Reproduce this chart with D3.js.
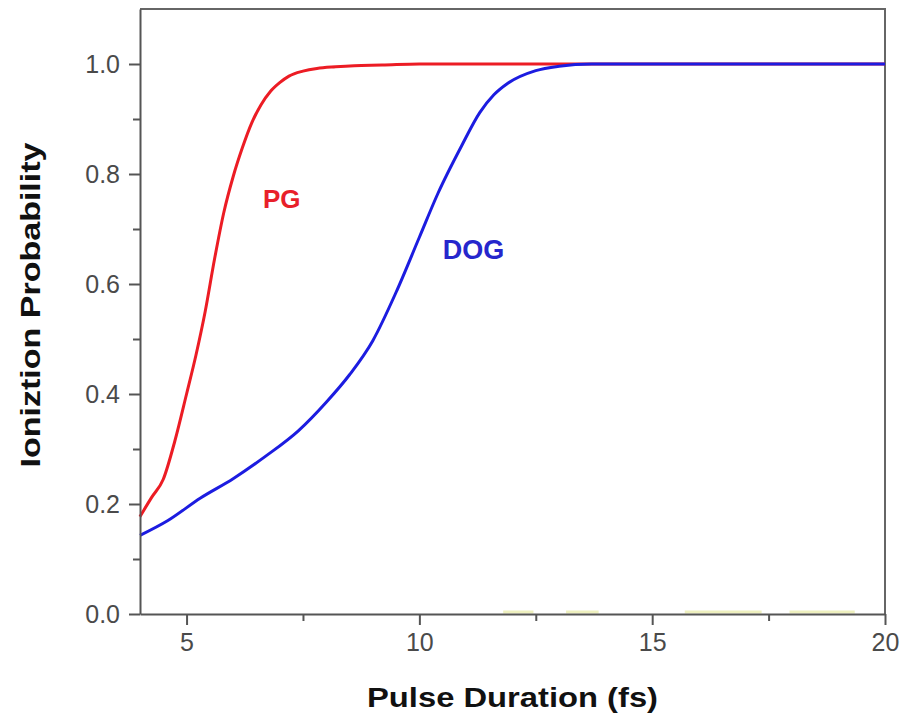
<!DOCTYPE html>
<html>
<head>
<meta charset="utf-8">
<script src="https://cdn.jsdelivr.net/npm/d3@7"></script>
<style>
  html, body { margin: 0; padding: 0; background: #fff; }
  svg { display: block; }
</style>
</head>
<body>
<svg id="chart" width="904" height="721"></svg>
<script>
// Pulse duration (fs) and ionization probability for the PG pulse
const pgDuration = [4.0, 4.25, 4.5, 4.75, 5.0, 5.2, 5.4, 5.6, 5.8, 6.0, 6.2, 6.4, 6.6, 6.8, 7.0, 7.2, 7.5, 7.8, 8.2, 8.6, 9.2, 10.0, 12.0, 14.0, 17.0, 20.0];
const pgProb     = [0.177, 0.212, 0.245, 0.315, 0.40, 0.47, 0.55, 0.645, 0.73, 0.795, 0.848, 0.893, 0.926, 0.95, 0.966, 0.978, 0.987, 0.992, 0.995, 0.997, 0.998, 1.0, 1.0, 1.0, 1.0, 1.0];

// Pulse duration (fs) and ionization probability for the DOG pulse
const dogDuration = [4.0, 4.6, 5.3, 6.0, 6.7, 7.4, 8.0, 8.5, 9.0, 9.5, 10.0, 10.4, 10.9, 11.3, 11.6, 11.9, 12.5, 13.0, 13.7, 16.0, 20.0];
const dogProb     = [0.143, 0.170, 0.211, 0.246, 0.287, 0.333, 0.385, 0.435, 0.497, 0.585, 0.685, 0.765, 0.85, 0.912, 0.944, 0.965, 0.988, 0.996, 1.0, 1.0, 1.0];

// Faint zero-level trace along the bottom (null marks a gap)
const baseDuration = [11.8, 12.45, 12.5, 13.15, 13.85, 13.9, 15.7, 17.35, 17.4, 17.95, 19.35];
const baseProb     = [0, 0, null, 0, 0, null, 0, 0, null, 0, 0];

// Axis ticks
const xMajorTicks = [5, 10, 15, 20];
const xMinorTicks = [7.5, 12.5, 17.5];
const yMajorTicks = [0.0, 0.2, 0.4, 0.6, 0.8, 1.0];
const yMinorTicks = [0.1, 0.3, 0.5, 0.7, 0.9];

const svg = d3.select("#chart");
const plotLeft = 140, plotRight = 885, plotTop = 9, plotBottom = 614;

const x = d3.scaleLinear().domain([4, 20]).range([plotLeft, plotRight]);
const y = d3.scaleLinear().domain([0, 1.1]).range([plotBottom, plotTop]);

const zip = (xs, ys) => xs.map((d, i) => ({ x: d, y: ys[i] }));

const line = d3.line()
  .defined(d => d.y !== null)
  .x(d => x(d.x))
  .y(d => y(d.y))
  .curve(d3.curveMonotoneX);

// frame (top and right edges)
svg.append("path")
  .attr("d", `M${plotLeft},${plotTop}H${plotRight}V${plotBottom}`)
  .attr("fill", "none")
  .attr("stroke", "#666")
  .attr("stroke-width", 2);

// faint baseline trace
svg.append("path")
  .datum(zip(baseDuration, baseProb))
  .attr("d", line)
  .attr("fill", "none")
  .attr("stroke", "#dde27e")
  .attr("stroke-opacity", 0.5)
  .attr("stroke-width", 3)
  .attr("transform", "translate(0,-2)");

// curves
svg.append("path")
  .datum(zip(pgDuration, pgProb))
  .attr("d", line)
  .attr("fill", "none")
  .attr("stroke", "#ec1c24")
  .attr("stroke-width", 3)
  .attr("stroke-linejoin", "round");

svg.append("path")
  .datum(zip(dogDuration, dogProb))
  .attr("d", line)
  .attr("fill", "none")
  .attr("stroke", "#1c1ce0")
  .attr("stroke-width", 3)
  .attr("stroke-linejoin", "round");

// axes
function styleAxis(g) {
  g.selectAll("path.domain").attr("stroke", "#555").attr("stroke-width", 2);
  g.selectAll(".tick line").attr("stroke", "#555").attr("stroke-width", 2);
  g.selectAll(".tick text")
    .attr("fill", "#4a4a4a")
    .style("font-family", "'Liberation Sans', Arial, sans-serif")
    .style("font-size", "25px");
}

const xAxis = svg.append("g")
  .attr("transform", `translate(0,${plotBottom})`)
  .call(d3.axisBottom(x).tickValues(xMajorTicks).tickSize(11).tickSizeOuter(0).tickPadding(8).tickFormat(d3.format("d")));
styleAxis(xAxis);

const xMinor = svg.append("g")
  .attr("transform", `translate(0,${plotBottom})`)
  .call(d3.axisBottom(x).tickValues(xMinorTicks).tickSize(7).tickFormat(""));
styleAxis(xMinor);
xMinor.select("path.domain").remove();

const yAxis = svg.append("g")
  .attr("transform", `translate(${plotLeft},0)`)
  .call(d3.axisLeft(y).tickValues(yMajorTicks).tickSize(11).tickSizeOuter(0).tickPadding(9).tickFormat(d3.format(".1f")));
styleAxis(yAxis);

const yMinor = svg.append("g")
  .attr("transform", `translate(${plotLeft},0)`)
  .call(d3.axisLeft(y).tickValues(yMinorTicks).tickSize(7).tickFormat(""));
styleAxis(yMinor);
yMinor.select("path.domain").remove();

// axis titles
svg.append("text")
  .attr("x", (plotLeft + plotRight) / 2)
  .attr("y", 707)
  .attr("text-anchor", "middle")
  .attr("textLength", 291)
  .attr("lengthAdjust", "spacingAndGlyphs")
  .style("font-family", "'Liberation Sans', Arial, sans-serif")
  .style("font-weight", "bold")
  .style("font-size", "27px")
  .attr("fill", "#111")
  .text("Pulse Duration (fs)");

svg.append("text")
  .attr("transform", "translate(40,305) rotate(-90)")
  .attr("text-anchor", "middle")
  .attr("textLength", 325)
  .attr("lengthAdjust", "spacingAndGlyphs")
  .style("font-family", "'Liberation Sans', Arial, sans-serif")
  .style("font-weight", "bold")
  .style("font-size", "28px")
  .attr("fill", "#111")
  .text("Ioniztion Probability");

// series labels
svg.append("text")
  .attr("x", x(6.64))
  .attr("y", y(0.738))
  .style("font-family", "'Liberation Sans', Arial, sans-serif")
  .style("font-weight", "bold")
  .style("font-size", "26px")
  .attr("fill", "#e8202a")
  .text("PG");

svg.append("text")
  .attr("x", x(10.5))
  .attr("y", y(0.645))
  .style("font-family", "'Liberation Sans', Arial, sans-serif")
  .style("font-weight", "bold")
  .style("font-size", "27px")
  .attr("fill", "#2626cc")
  .text("DOG");
</script>
</body>
</html>
